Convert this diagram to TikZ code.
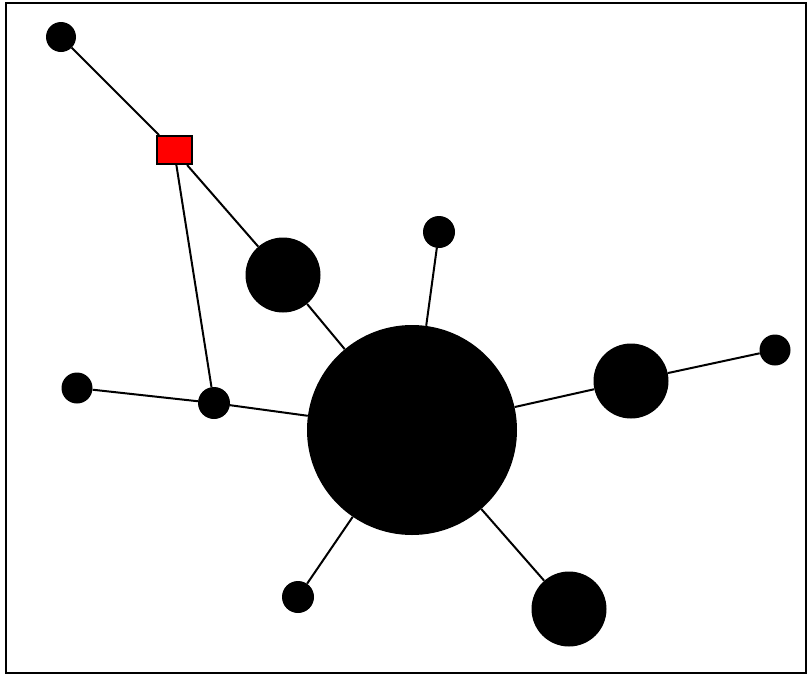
\documentclass[tikz,border=0pt]{standalone}
\begin{document}
\begin{tikzpicture}[x=1pt,y=-1pt,
  dot/.style={circle,fill=black,inner sep=0pt,minimum size=#1},
  link/.style={line width=2pt,black},
  sq/.style={rectangle,draw=black,line width=2pt,fill=red,inner sep=0pt,minimum width=35pt,minimum height=28pt}]
\useasboundingbox (0,0) rectangle (809,675);
\draw[line width=2pt] (6,3) rectangle (806,673);
\node[dot=30pt] (tl) at (61,37) {};
\node[sq] (sq) at (174,150) {};
\node[dot=75pt] (m1) at (283,275) {};
\node[dot=32pt] (ts) at (439,232) {};
\node[dot=210pt] (big) at (412,430) {};
\node[dot=31pt] (ls) at (77,388) {};
\node[dot=32pt] (lm) at (214,403) {};
\node[dot=75pt] (rm) at (631,381) {};
\node[dot=31pt] (rs) at (775,350) {};
\node[dot=32pt] (bs) at (298,597) {};
\node[dot=75pt] (br) at (569,609) {};
\draw[link] (tl) -- (sq);
\draw[link] (sq) -- (m1);
\draw[link] (sq) -- (lm);
\draw[link] (m1) -- (big);
\draw[link] (ls) -- (lm);
\draw[link] (lm) -- (big);
\draw[link] (ts) -- (big);
\draw[link] (big) -- (rm);
\draw[link] (rm) -- (rs);
\draw[link] (big) -- (bs);
\draw[link] (big) -- (br);
\end{tikzpicture}
\end{document}
